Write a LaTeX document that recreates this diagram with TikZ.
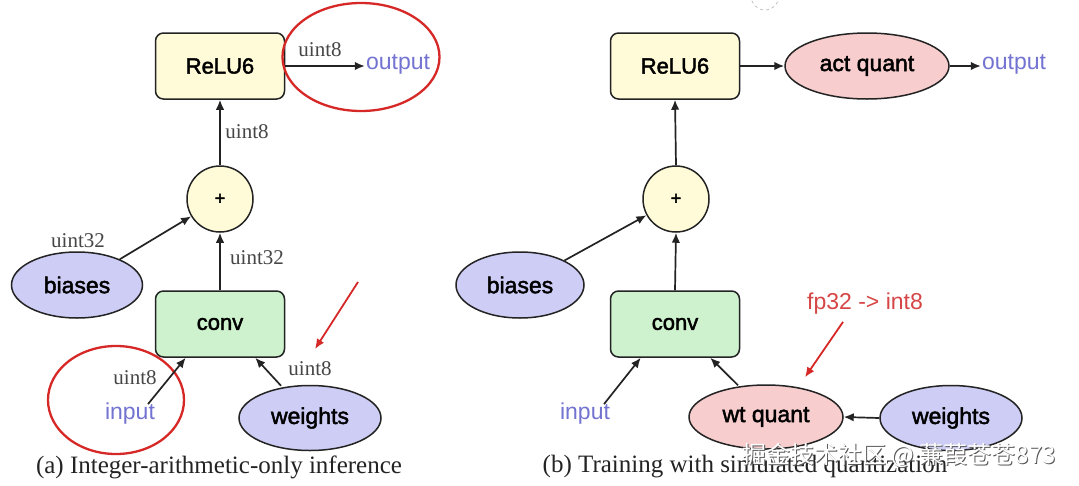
\documentclass[tikz,border=0pt]{standalone}
\usepackage{fontspec}
\setmainfont{Liberation Serif}
\setsansfont{Liberation Sans}
\newfontfamily\nodefont[FakeBold=2]{Liberation Sans}
\newfontfamily\cjkfont{Noto Sans CJK SC}
\usetikzlibrary{shapes.geometric,arrows.meta,calc}
\definecolor{boxyellow}{RGB}{255,250,215}
\definecolor{boxgreen}{RGB}{205,242,205}
\definecolor{ellblue}{RGB}{205,205,245}
\definecolor{ellpink}{RGB}{247,205,205}
\definecolor{txtblue}{RGB}{115,115,210}
\definecolor{hlred}{RGB}{215,40,40}
\definecolor{fpred}{RGB}{215,70,70}
\definecolor{edgegray}{RGB}{35,35,35}
\definecolor{labgray}{RGB}{70,70,70}
\tikzset{
  opbox/.style={draw=edgegray, line width=1.5pt, rounded corners=8pt, minimum width=129pt, minimum height=66pt, inner sep=0pt, font=\nodefont\fontsize{22}{24}\selectfont},
  addcirc/.style={circle, draw=edgegray, line width=1.5pt, fill=boxyellow, minimum size=66pt, inner sep=0pt, font=\nodefont\fontsize{18}{20}\selectfont},
  dataell/.style={ellipse, draw=edgegray, line width=1.5pt, fill=ellblue, inner sep=0pt, font=\nodefont\fontsize{23}{25}\selectfont},
  quantell/.style={ellipse, draw=edgegray, line width=1.5pt, fill=ellpink, inner sep=0pt, font=\nodefont\fontsize{23}{25}\selectfont},
  iotext/.style={text=txtblue, inner sep=1pt, font=\sffamily\fontsize{23}{25}\selectfont},
  typelab/.style={text=labgray, inner sep=0pt, font=\fontsize{21}{23}\selectfont},
  caption/.style={text=edgegray, inner sep=0pt, font=\fontsize{25}{27}\selectfont},
  flow/.style={draw=edgegray, line width=1.7pt, -{Latex[length=10pt,width=8.5pt]}},
  hlring/.style={ellipse, draw=hlred, line width=2.3pt, inner sep=0pt},
  hlarrow/.style={draw=hlred, line width=1.8pt, -{Latex[length=10pt,width=8.5pt]}},
}
\begin{document}
\begin{tikzpicture}[x=1pt,y=-1pt]
\useasboundingbox[fill=white] (0,0) rectangle (1079,485);

% ---------- (a) ----------
\node[opbox, fill=boxyellow] (reluA) at (220,66) {ReLU6};
\node[addcirc] (plusA) at (220,199) {+};
\node[opbox, fill=boxgreen] (convA) at (220,324) {conv};
\node[dataell, minimum width=131pt, minimum height=66pt] (biasA) at (77,285) {biases};
\node[dataell, minimum width=142pt, minimum height=65pt] (wtA) at (310,418) {weights};
\node[iotext] (inA) at (130,414) {input};
\node[iotext] (outA) at (398,64) {output};
\node[hlring, minimum width=157pt, minimum height=108pt] (ringOut) at (361,57) {};
\node[hlring, minimum width=136pt, minimum height=108pt] (ringIn) at (116,400) {};

\draw[flow] (reluA.east) -- (reluA.east -| outA.west);
\draw[flow] (plusA.north) -- (reluA.south);
\draw[flow] (convA.north) -- (plusA.south);
\draw[flow] (biasA) -- (plusA);
\draw[flow] ($(inA.north)+(18,2)$) -- ($(convA.south west)+(31,0)$);
\draw[flow] ($(wtA.north)+(-29,1)$) -- ($(convA.south east)+(-30,0)$);

\node[typelab] (lA1) at (320,50) {uint8};
\node[typelab] (lA2) at (247,132) {uint8};
\node[typelab] (lA3) at (78,241) {uint32};
\node[typelab] (lA4) at (257,258) {uint32};
\node[typelab] (lA5) at (135,378) {uint8};
\node[typelab] (lA6) at (310,369) {uint8};

\coordinate (redA1) at (358,282);
\coordinate (redA2) at (315,349);
\draw[hlarrow] (redA1) -- (redA2);

\node[caption] (capA) at (219,467) {(a) Integer-arithmetic-only inference};

% ---------- (b) ----------
\node[opbox, fill=boxyellow] (reluB) at (675,66) {ReLU6};
\node[addcirc] (plusB) at (676,199) {+};
\node[opbox, fill=boxgreen] (convB) at (675,324) {conv};
\node[dataell, minimum width=128pt, minimum height=66pt] (biasB) at (520,285) {biases};
\node[quantell, minimum width=164pt, minimum height=66pt] (actB) at (867,66) {act quant};
\node[quantell, minimum width=154pt, minimum height=64pt] (wqB) at (766,417) {wt quant};
\node[dataell, minimum width=142pt, minimum height=65pt] (wtB) at (951,418) {weights};
\node[iotext] (inB) at (585,414) {input};
\node[iotext] (outB) at (1014,64) {output};

\draw[flow] (reluB.east) -- (actB.west);
\draw[flow] (actB.east) -- (actB.east -| outB.west);
\draw[flow] (plusB.north) -- (reluB.south);
\draw[flow] (convB.north) -- (plusB.south);
\draw[flow] (biasB) -- (plusB);
\draw[flow] ($(inB.north)+(19,2)$) -- ($(convB.south west)+(31,0)$);
\draw[flow] ($(wqB.north)+(-28,1)$) -- ($(convB.south east)+(-30,0)$);
\draw[flow] (wtB.west) -- (wqB.east);

\node[text=fpred, inner sep=0pt, font=\sffamily\fontsize{23}{25}\selectfont] (fpB) at (865,304) {fp32 -> int8};
\draw[hlarrow] ($(fpB.south)+(-22,7)$) -- ($(wqB.north)+(39,-7)$);

\node[caption] (capB) at (745,467) {(b) Training with simulated quantization};

% watermark
\node[text=gray!70!black, inner sep=0pt, font=\cjkfont\fontsize{24}{26}\selectfont] (wm1) at (900,456) {掘金技术社区 @ 蒹葭苍苍873};
\node[text=white, inner sep=0pt, font=\cjkfont\fontsize{24}{26}\selectfont] (wm2) at (899,455) {掘金技术社区 @ 蒹葭苍苍873};

% faint cursor artifact at top
\draw[gray!60, line width=0.6pt, dashed] (765,-4) circle (14);
\end{tikzpicture}
\end{document}
